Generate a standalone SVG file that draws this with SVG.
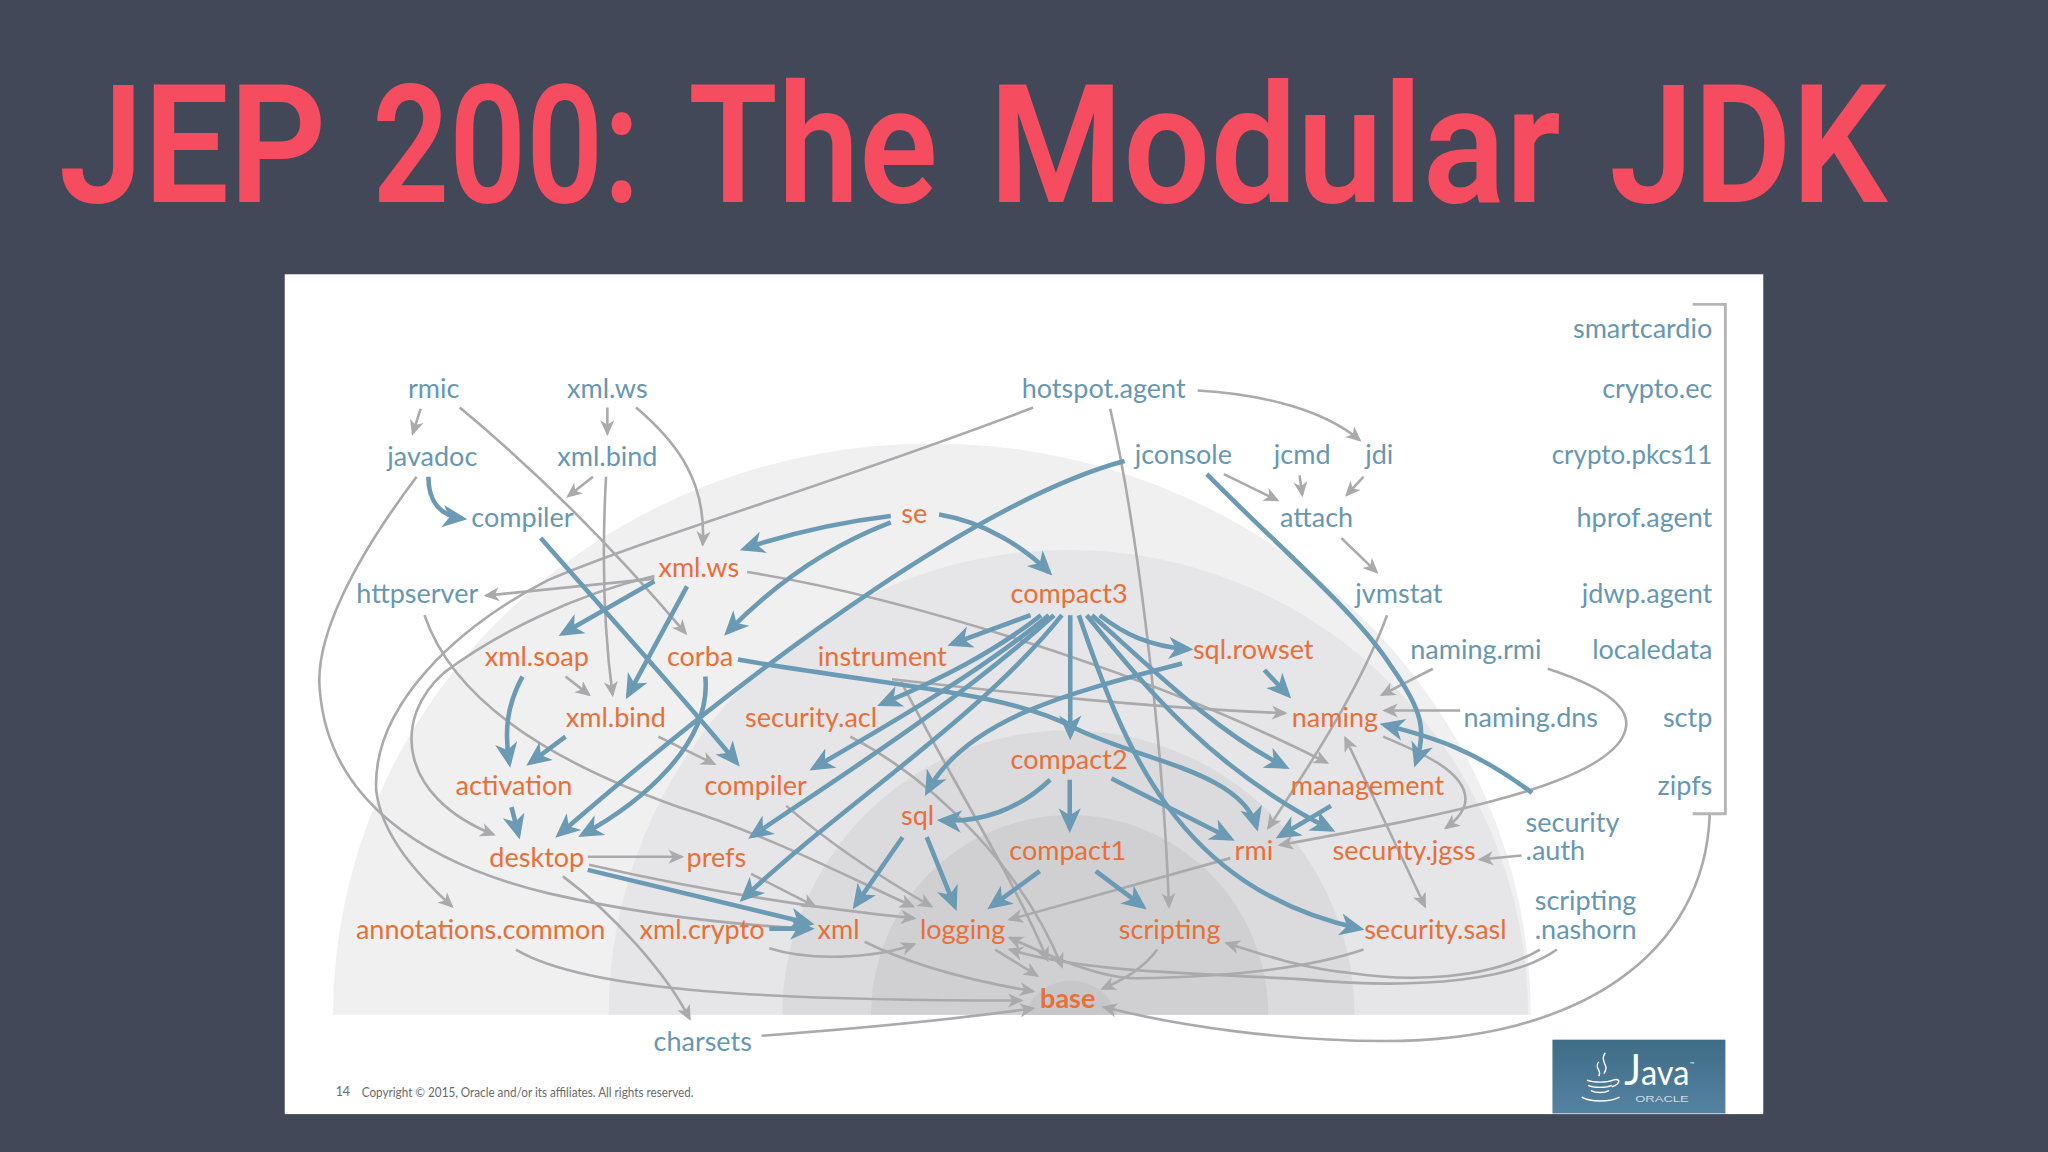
<svg xmlns="http://www.w3.org/2000/svg" width="2048" height="1152" viewBox="0 0 2048 1152">
<style>
.t{font-family:"Lato","Liberation Sans",sans-serif;font-size:20.700px;text-anchor:middle}
.b{fill:#6797b1}.o{fill:#e96f39}
.l{text-anchor:start}.r{text-anchor:end}
.g{fill:none;stroke:#aaaaac;stroke-width:2;marker-end:url(#ga)}
.g2{fill:none;stroke:#aaaaac;stroke-width:2;marker-end:url(#ga);marker-start:url(#ga)}
.h{fill:none;stroke:#6b9ab4;stroke-width:3.500;marker-end:url(#ba)}
.w{fill:none;stroke:#fff;stroke-width:1.100}
</style>
<defs>
<marker id="ga" markerUnits="userSpaceOnUse" markerWidth="12" markerHeight="12" viewBox="0 0 10 10" refX="8.5" refY="5" orient="auto-start-reverse"><path d="M0,0.5 L10,5 L0,9.5 L2.8,5z" fill="#aaaaac"/></marker>
<marker id="ba" markerUnits="userSpaceOnUse" markerWidth="19" markerHeight="19" viewBox="0 0 10 10" refX="8" refY="5" orient="auto"><path d="M0,0.5 L10,5 L0,9.5 L2.8,5z" fill="#6b9ab4"/></marker>
<linearGradient id="jv" x1="0" y1="0" x2="0" y2="1"><stop offset="0" stop-color="#3f6c86"/><stop offset="1" stop-color="#5482a1"/></linearGradient>
</defs>
<rect width="2048" height="1152" fill="#434859"/>
<g transform="scale(1.30612)">
<g id="title" font-family="Roboto,'Liberation Sans',sans-serif" font-weight="600" font-size="126" fill="#f64c5f">
<text x="45" y="155" textLength="205" lengthAdjust="spacingAndGlyphs">JEP</text>
<text x="285" y="155" textLength="205" lengthAdjust="spacingAndGlyphs">200:</text>
<text x="527" y="155" textLength="191" lengthAdjust="spacingAndGlyphs">The</text>
<text x="757" y="155" textLength="438" lengthAdjust="spacingAndGlyphs">Modular</text>
<text x="1232" y="155" textLength="213" lengthAdjust="spacingAndGlyphs">JDK</text>
</g>
<rect x="218" y="210" width="1132" height="643" fill="#fff"/>
<g id="bands">
<path d="M255,777 A458,437 0 0 1 1172,777Z" fill="#f0f0f1"/>
<path d="M466,777 A352,356 0 0 1 1170,777Z" fill="#e6e6e8"/>
<path d="M599,777 A219,218 0 0 1 1037,777Z" fill="#dbdbdd"/>
<path d="M667,777 A152,153 0 0 1 971,777Z" fill="#d0d0d3"/>
<path d="M785,777 A36,34 0 0 1 855,777Z" fill="#c7c7ca"/>
</g>
<path id="bracket" d="M1296,233H1321V623H1296" fill="none" stroke="#b5b5b7" stroke-width="2.200"/>
<g id="connectors">
<path class="g" d="M322,313L316,332"/>
<path class="g" d="M465,312V332"/>
<path class="g" d="M487,312C520,340 541,370 538,417"/>
<path class="g" d="M352,312C410,360 470,420 525,485"/>
<path class="g" d="M454,365L435,380"/>
<path class="g" d="M464,365C461,420 462,480 469,532"/>
<path class="g" d="M791,312C640,370 500,410 420,444C350,480 285,540 288,605C292,640 320,670 346,694"/>
<path class="g" d="M501,441C440,455 380,485 340,515C300,550 305,610 378,639"/>
<path class="g" d="M319,365C270,430 240,490 245,530C252,610 320,660 420,684C490,700 560,708 620,711"/>
<path class="g" d="M501,443L372,456"/>
<path class="g" d="M572,438C680,455 870,510 1016,584"/>
<path class="g" d="M325,471C350,545 440,590 520,618C590,640 650,672 699,694"/>
<path class="g" d="M433,518L451,532"/>
<path class="g" d="M504,564L547,585"/>
<path class="g" d="M450,656H522"/>
<path class="g" d="M451,662C530,680 620,695 700,703"/>
<path class="g" d="M575,669L624,694"/>
<path class="g" d="M602,617C640,650 680,675 713,694"/>
<path class="g" d="M589,726C620,736 670,734 700,723"/>
<path class="g" d="M662,721C700,740 750,752 791,759"/>
<path class="g" d="M395,727C450,760 600,766 782,766"/>
<path class="g" d="M583,793C650,788 720,782 791,772"/>
<path class="g" d="M431,671C470,700 510,745 528,780"/>
<path class="g" d="M762,727L794,747"/>
<path class="g" d="M886,727C875,742 860,750 844,757"/>
<path class="g" d="M1309,624C1305,730 1210,797 1060,797C980,797 900,785 845,771"/>
<path class="g" d="M1044,727C1000,742 940,748 870,749C840,749 800,730 773,718"/>
<path class="g" d="M1192,727C1160,750 1090,758 1000,750C920,745 830,745 773,727"/>
<path class="g" d="M1179,727C1140,750 1080,752 1034,745C1000,742 970,732 939,722"/>
<path class="g" d="M850,313C870,400 890,560 895,694"/>
<path class="g" d="M917,299C970,302 1015,315 1041,337"/>
<path class="g" d="M937,363L978,383"/>
<path class="g" d="M995,364L997,379"/>
<path class="g" d="M1044,365L1031,379"/>
<path class="g" d="M1027,412L1054,438"/>
<path class="g" d="M1062,471C1040,530 1000,590 971,634"/>
<path class="g" d="M1097,512L1058,532"/>
<path class="g" d="M1118,544H1060"/>
<path class="g" d="M1185,512C1225,525 1247,540 1245,556C1240,600 1100,625 980,647"/>
<path class="g" d="M942,657L773,704"/>
<path class="g" d="M1165,655L1133,658"/>
<path class="g" d="M1059,564C1085,575 1122,590 1122,612C1122,620 1115,628 1107,634"/>
<path class="g2" d="M1030,565L1091,694"/>
<path class="g" d="M690,522C730,600 775,670 802,735"/>
<path class="g" d="M651,564C720,600 785,670 813,740"/>
<path class="g" d="M683,520C770,530 880,542 984,546"/>
<path class="h" d="M328,365C328,385 338,395 354,397"/>
<path class="h" d="M414,412C460,465 520,530 564,584"/>
<path class="h" d="M682,395C640,400 600,410 570,420"/>
<path class="h" d="M682,400C630,420 590,450 557,484"/>
<path class="h" d="M719,394C755,400 785,420 803,438"/>
<path class="h" d="M861,353C760,380 600,490 428,639"/>
<path class="h" d="M540,518C545,570 490,615 446,639"/>
<path class="h" d="M501,445L431,485"/>
<path class="h" d="M526,449L481,532"/>
<path class="h" d="M400,518C388,540 386,560 390,584"/>
<path class="h" d="M433,564L406,584"/>
<path class="h" d="M391.600,618L397,639"/>
<path class="h" d="M450,666L620,707"/>
<path class="h" d="M589,711H620"/>
<path class="h" d="M565,505C680,525 770,530 820,556C870,582 950,590 962,633"/>
<path class="h" d="M789,471L729,493"/>
<path class="h" d="M797,471C760,500 720,520 675,539"/>
<path class="h" d="M803,471C750,515 680,555 623,588"/>
<path class="h" d="M807,471C730,540 650,590 576,640"/>
<path class="h" d="M813,471C750,550 640,620 569,688"/>
<path class="h" d="M819.400,471V563"/>
<path class="h" d="M826,471C860,570 900,680 1041,711"/>
<path class="h" d="M832,471C880,530 930,590 1019,635"/>
<path class="h" d="M836,471C880,510 930,560 984,587"/>
<path class="h" d="M842,471C860,485 880,495 910,497"/>
<path class="h" d="M968,513L986,532"/>
<path class="h" d="M905,508C820,530 740,550 710,606"/>
<path class="h" d="M804,597C780,620 750,630 721,628"/>
<path class="h" d="M819,597V634"/>
<path class="h" d="M851,596L942,642"/>
<path class="h" d="M796,667L759,694"/>
<path class="h" d="M839,667L875,694"/>
<path class="h" d="M709.500,641L731,694"/>
<path class="h" d="M691,641L655,693"/>
<path class="h" d="M1019,617L980,640"/>
<path class="h" d="M924,363C980,420 1040,470 1065,510C1090,545 1092,560 1084,584"/>
<path class="h" d="M1173,607C1130,575 1100,565 1060,555"/>
</g>
<g id="nodes" transform="translate(0,.6)">
<g id="n-rmic"><text class="t b" x="332" y="304">rmic</text></g>
<g id="n-xml-ws"><text class="t b" x="465" y="304">xml.ws</text></g>
<g id="n-hotspot-agent"><text class="t b" x="845" y="304">hotspot.agent</text></g>
<g id="n-javadoc"><text class="t b" x="331" y="356">javadoc</text></g>
<g id="n-xml-bind"><text class="t b" x="465" y="356">xml.bind</text></g>
<g id="n-jconsole"><text class="t b" x="906" y="355">jconsole</text></g>
<g id="n-jcmd"><text class="t b" x="997" y="355">jcmd</text></g>
<g id="n-jdi"><text class="t b" x="1056" y="355">jdi</text></g>
<g id="n-compiler"><text class="t b" x="400" y="403">compiler</text></g>
<g id="n-attach"><text class="t b" x="1008" y="403">attach</text></g>
<g id="n-httpserver"><text class="t b" x="319.500" y="461">httpserver</text></g>
<g id="n-jvmstat"><text class="t b" x="1071" y="461">jvmstat</text></g>
<g id="n-naming-rmi"><text class="t b" x="1130" y="504">naming.rmi</text></g>
<g id="n-naming-dns"><text class="t b" x="1172" y="556">naming.dns</text></g>
<g id="n-security-auth"><text class="t b l" x="1168" y="636.500">security</text><text class="t b l" x="1168" y="658">.auth</text></g>
<g id="n-scripting-nashorn"><text class="t b l" x="1175" y="696">scripting</text><text class="t b l" x="1175" y="718">.nashorn</text></g>
<g id="n-charsets"><text class="t b" x="538" y="804">charsets</text></g>
<g id="n-smartcardio"><text class="t b r" x="1311" y="258">smartcardio</text></g>
<g id="n-crypto-ec"><text class="t b r" x="1311" y="304">crypto.ec</text></g>
<g id="n-crypto-pkcs11"><text class="t b" x="1249.500" y="355" textLength="123" lengthAdjust="spacingAndGlyphs">crypto.pkcs11</text></g>
<g id="n-hprof-agent"><text class="t b r" x="1311" y="403">hprof.agent</text></g>
<g id="n-jdwp-agent"><text class="t b r" x="1311" y="461">jdwp.agent</text></g>
<g id="n-localedata"><text class="t b r" x="1311" y="504">localedata</text></g>
<g id="n-sctp"><text class="t b r" x="1311" y="556">sctp</text></g>
<g id="n-zipfs"><text class="t b r" x="1311" y="608">zipfs</text></g>
<g id="o-se"><text class="t o" x="700" y="400">se</text></g>
<g id="o-xml-ws"><text class="t o" x="535" y="441">xml.ws</text></g>
<g id="o-compact3"><text class="t o" x="818.500" y="461">compact3</text></g>
<g id="o-xml-soap"><text class="t o" x="411" y="509">xml.soap</text></g>
<g id="o-corba"><text class="t o" x="536" y="509">corba</text></g>
<g id="o-instrument"><text class="t o" x="675.500" y="509">instrument</text></g>
<g id="o-sql-rowset"><text class="t o" x="959.500" y="504">sql.rowset</text></g>
<g id="o-xml-bind"><text class="t o" x="471.500" y="556">xml.bind</text></g>
<g id="o-security-acl"><text class="t o" x="621" y="556">security.acl</text></g>
<g id="o-naming"><text class="t o" x="1022" y="556">naming</text></g>
<g id="o-activation"><text class="t o" x="393.500" y="608">activation</text></g>
<g id="o-compiler"><text class="t o" x="578.500" y="608">compiler</text></g>
<g id="o-compact2"><text class="t o" x="818.500" y="588">compact2</text></g>
<g id="o-management"><text class="t o" x="1047" y="608">management</text></g>
<g id="o-sql"><text class="t o" x="702.500" y="631">sql</text></g>
<g id="o-desktop"><text class="t o" x="411" y="663">desktop</text></g>
<g id="o-prefs"><text class="t o" x="548.500" y="663">prefs</text></g>
<g id="o-compact1"><text class="t o" x="817.500" y="658">compact1</text></g>
<g id="o-rmi"><text class="t o" x="960" y="658">rmi</text></g>
<g id="o-security-jgss"><text class="t o" x="1075" y="658">security.jgss</text></g>
<g id="o-annotations-common"><text class="t o" x="368" y="718">annotations.common</text></g>
<g id="o-xml-crypto"><text class="t o" x="537.500" y="718">xml.crypto</text></g>
<g id="o-xml"><text class="t o" x="642" y="718">xml</text></g>
<g id="o-logging"><text class="t o" x="737" y="718">logging</text></g>
<g id="o-scripting"><text class="t o" x="895.500" y="718">scripting</text></g>
<g id="o-security-sasl"><text class="t o" x="1099" y="718">security.sasl</text></g>
<g id="o-base"><text class="t o" x="817.500" y="771" font-weight="700">base</text></g>
</g>
<g id="footer" font-family="Lato,'Liberation Sans',sans-serif" fill="#6a6a6e" font-size="9.500">
<text x="257" y="839">14</text>
<text x="277" y="840" textLength="254" lengthAdjust="spacingAndGlyphs">Copyright © 2015, Oracle and/or its affiliates. All rights reserved.</text>
</g>
<g id="java-logo">
<rect x="1188.600" y="796" width="132.400" height="56.500" fill="url(#jv)"/>
<path class="w" d="M1229,806C1224,813 1233,815 1228,822M1224,813C1220,818 1227,819 1224,824"/>
<path class="w" d="M1215,827C1220,829 1230,829 1235,827M1216,831C1220,833 1230,833 1234,831M1218,835C1222,837 1228,837 1232,835M1235,827C1241,825 1241,830 1234,832M1211,840C1218,844 1232,844 1240,840"/>
<text x="1243.500" y="831" font-family="Lato,'Liberation Sans',sans-serif" font-size="27" fill="#fff" textLength="50" lengthAdjust="spacingAndGlyphs"><tspan font-size="33">J</tspan>ava</text>
<text x="1294" y="816" font-family="Lato,'Liberation Sans',sans-serif" font-size="4.500" fill="#fff">™</text>
<text x="1252" y="844" font-family="'Liberation Sans',sans-serif" font-size="7" fill="#cfdbe3" textLength="41" lengthAdjust="spacingAndGlyphs">ORACLE</text>
</g>
</g>
</svg>
